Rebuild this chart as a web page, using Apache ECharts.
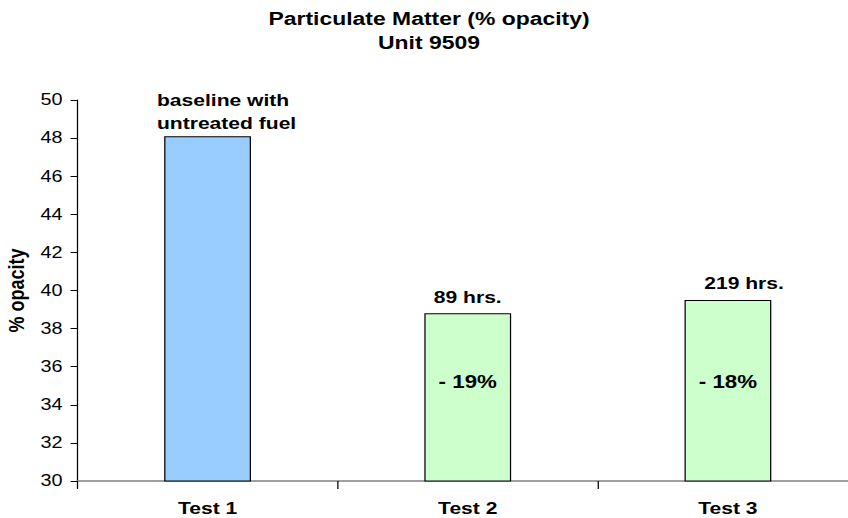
<!DOCTYPE html>
<html>
<head>
<meta charset="utf-8">
<title>Particulate Matter (% opacity) - Unit 9509</title>
<script src="https://cdn.jsdelivr.net/npm/echarts@6/dist/echarts.min.js"></script>
<style>
  html, body { margin: 0; padding: 0; background: #fff; overflow: hidden; width: 848px; height: 518px; }
  /* The chart is laid out on a 692px-wide stage and widened to the page. */
  #chart { width: 692px; height: 518px; transform: scaleX(1.2399); transform-origin: 0 0; }
</style>
</head>
<body>
<div id="chart"></div>
<script>
// Test runs and measured opacity
const categories = ['Test 1', 'Test 2', 'Test 3'];
const opacityValues = [48.1, 38.8, 39.5];
const runLabels = ['baseline with\nuntreated fuel', '89 hrs.', '219 hrs.'];
const changeLabels = ['', '- 19%', '- 18%'];

// Value axis range
const yMin = 30;
const yMax = 50;
const yStep = 2;

// Bar fills: baseline in blue, treated-fuel runs in green
const barColors = ['#99CCFF', '#CCFFCC', '#CCFFCC'];

const FONT = '"Liberation Sans", Arial, sans-serif';
const BAR_W = 70;

const barData = opacityValues.map((v, i) => ({
  value: v,
  itemStyle: { color: barColors[i] },
  label: { show: changeLabels[i] !== '', formatter: changeLabels[i] }
}));

// Transparent twin bars carry the run description above each bar
const runOffsets = [[-40.8, 4], [0, 0], [13, 0]];
const runData = opacityValues.map((v, i) => ({
  value: v,
  label: {
    formatter: runLabels[i],
    align: i === 0 ? 'left' : 'center',
    offset: runOffsets[i]
  }
}));

const chart = echarts.init(document.getElementById('chart'), null, { renderer: 'svg' });

chart.setOption({
  backgroundColor: '#ffffff',
  animation: false,
  textStyle: { fontFamily: FONT, color: '#000' },
  title: {
    text: 'Particulate Matter (% opacity)\nUnit 9509',
    left: 'center',
    top: 6,
    padding: 0,
    textStyle: {
      fontFamily: FONT,
      fontSize: 18.5,
      fontWeight: 'bold',
      lineHeight: 24.5,
      color: '#000'
    }
  },
  grid: { left: 62.5, right: 0, top: 100, bottom: 37, containLabel: false, outerBoundsMode: 'none' },
  xAxis: {
    type: 'category',
    data: categories,
    boundaryGap: true,
    axisLine: { show: true, lineStyle: { color: '#808080', width: 1.5 } },
    axisTick: { show: true, length: 8, lineStyle: { color: '#000', width: 1 } },
    axisLabel: { fontFamily: FONT, fontSize: 17, fontWeight: 'bold', color: '#000', margin: 19 },
    splitLine: { show: false }
  },
  yAxis: {
    type: 'value',
    min: yMin,
    max: yMax,
    interval: yStep,
    name: '% opacity',
    nameLocation: 'middle',
    nameGap: 37,
    nameTextStyle: { fontFamily: FONT, fontSize: 18, fontWeight: 'bold', color: '#000' },
    axisLine: { show: true, lineStyle: { color: '#000', width: 1 } },
    axisTick: { show: true, length: 5.6, lineStyle: { color: '#000', width: 1 } },
    axisLabel: { fontFamily: FONT, fontSize: 16, color: '#000', margin: 12 },
    splitLine: { show: false }
  },
  series: [
    {
      name: 'opacity',
      type: 'bar',
      barWidth: BAR_W,
      data: barData,
      itemStyle: { borderColor: '#000', borderWidth: 1 },
      label: {
        position: 'insideBottom',
        distance: 91,
        fontFamily: FONT,
        fontSize: 18,
        fontWeight: 'bold',
        color: '#000'
      },
      z: 2
    },
    {
      name: 'run',
      type: 'bar',
      barWidth: BAR_W,
      barGap: '-100%',
      data: runData,
      silent: true,
      itemStyle: { color: 'rgba(0,0,0,0)', borderWidth: 0 },
      label: {
        show: true,
        position: 'top',
        distance: 5,
        fontFamily: FONT,
        fontSize: 17,
        fontWeight: 'bold',
        lineHeight: 23,
        color: '#000'
      },
      z: 3
    }
  ]
});
</script>
</body>
</html>
